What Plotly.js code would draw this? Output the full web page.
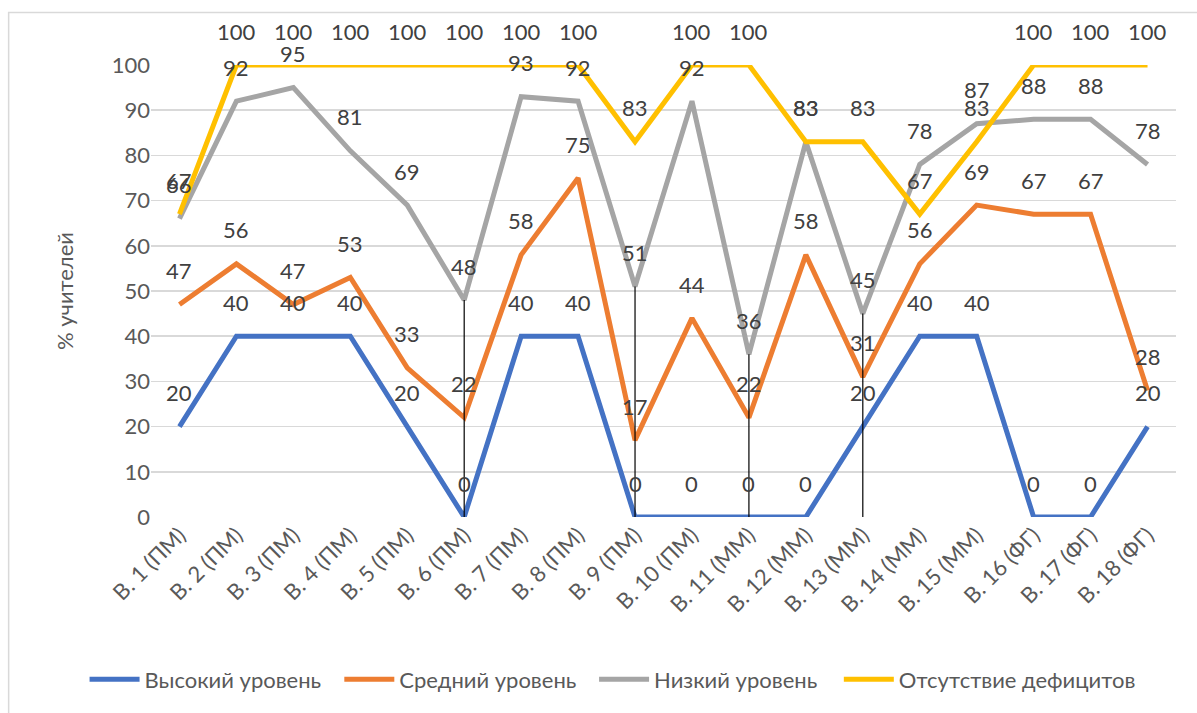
<!DOCTYPE html>
<html>
<head>
<meta charset="utf-8">
<script src="https://cdn.plot.ly/plotly-3.0.1.min.js"></script>
<style>html,body{margin:0;padding:0;background:#fff;}#chart{width:1197px;height:713px;}</style>
</head>
<body>
<div id="chart"></div>
<script>
const categories = ["В. 1 (ПМ)","В. 2 (ПМ)","В. 3 (ПМ)","В. 4 (ПМ)","В. 5 (ПМ)","В. 6 (ПМ)","В. 7 (ПМ)","В. 8 (ПМ)","В. 9 (ПМ)","В. 10 (ПМ)","В. 11 (ММ)","В. 12 (ММ)","В. 13 (ММ)","В. 14 (ММ)","В. 15 (ММ)","В. 16 (ФГ)","В. 17 (ФГ)","В. 18 (ФГ)"];
const high   = [20,40,40,40,20,0,40,40,0,0,0,0,20,40,40,0,0,20];
const medium = [47,56,47,53,33,22,58,75,17,44,22,58,31,56,69,67,67,28];
const low    = [66,92,95,81,69,48,93,92,51,92,36,83,45,78,87,88,88,78];
const none   = [67,100,100,100,100,100,100,100,83,100,100,83,83,67,83,100,100,100];
const seriesNames = ["Высокий уровень","Средний уровень","Низкий уровень","Отсутствие дефицитов"];
const yTicks = [0,10,20,30,40,50,60,70,80,90,100];
const markedCategories = [5,8,10,12]; // categories with thin vertical marker lines (from low level down to 0)

const colors = ["#4472C4","#ED7D31","#A5A5A5","#FFC000"];
const allSeries = [high, medium, low, none];
const FONT = "Lato, 'Open Sans', sans-serif";
const FS = 22;

const legendIds = ["legend","legend2","legend3","legend4"];
const traces = allSeries.map((vals, i) => ({
  type: "scatter", mode: "lines", name: seriesNames[i],
  x: categories, y: vals,
  line: {color: colors[i], width: 5},
  legend: legendIds[i],
  hoverinfo: "skip"
}));

const annotations = [];
allSeries.forEach(vals => {
  vals.forEach((v, j) => {
    annotations.push({
      x: categories[j], y: v, xref: "x", yref: "y",
      text: String(v), showarrow: false, yshift: 34,
      font: {family: FONT, size: FS, color: "#404040"}
    });
  });
});

const shapes = markedCategories.map(j => ({
  type: "line", xref: "x", yref: "y",
  x0: categories[j], x1: categories[j], y0: low[j], y1: 0,
  line: {color: "#000000", width: 1.2}
}));

const L = 150.5, R = 1176.5, T = 65, B = 521;
const W = R - L, H = B - T;
const px2x = p => (p - L) / W;
const px2y = p => (B - p) / H;
shapes.push({
  type: "rect", xref: "paper", yref: "paper",
  x0: px2x(8), x1: px2x(1210), y0: px2y(12), y1: px2y(730),
  line: {color: "#D9D9D9", width: 1.5}, layer: "below"
});

const legendStarts = [84, 339, 594, 839];

const layout = {
  width: 1197, height: 713,
  margin: {l: L, r: 1197 - R, t: T, b: 713 - B},
  paper_bgcolor: "#ffffff", plot_bgcolor: "#ffffff",
  font: {family: FONT, size: FS, color: "#595959"},
  showlegend: true,
  xaxis: {
    type: "category", range: [-0.5, categories.length - 0.5],
    tickangle: -45, showgrid: false, zeroline: false,
    showline: false, ticks: "",
    tickfont: {family: FONT, size: FS, color: "#595959"}
  },
  yaxis: {
    range: [0, 100], tickvals: yTicks, ticktext: yTicks.map(String),
    showgrid: true, gridcolor: "#D9D9D9", gridwidth: 1.5,
    zeroline: false, showline: false, ticks: "",
    tickfont: {family: FONT, size: FS, color: "#595959"},
    title: {text: "% учителей", standoff: 32, font: {family: FONT, size: FS, color: "#595959"}}
  },
  annotations: annotations,
  shapes: shapes
};
legendIds.forEach((id, i) => {
  layout[id] = {
    orientation: "h", x: px2x(legendStarts[i]), xanchor: "left",
    y: px2y(685), yanchor: "middle",
    font: {family: FONT, size: FS, color: "#595959"},
    itemwidth: 50, bgcolor: "rgba(0,0,0,0)"
  };
});

Plotly.newPlot("chart", traces, layout, {displayModeBar: false, staticPlot: true});
</script>
</body>
</html>
